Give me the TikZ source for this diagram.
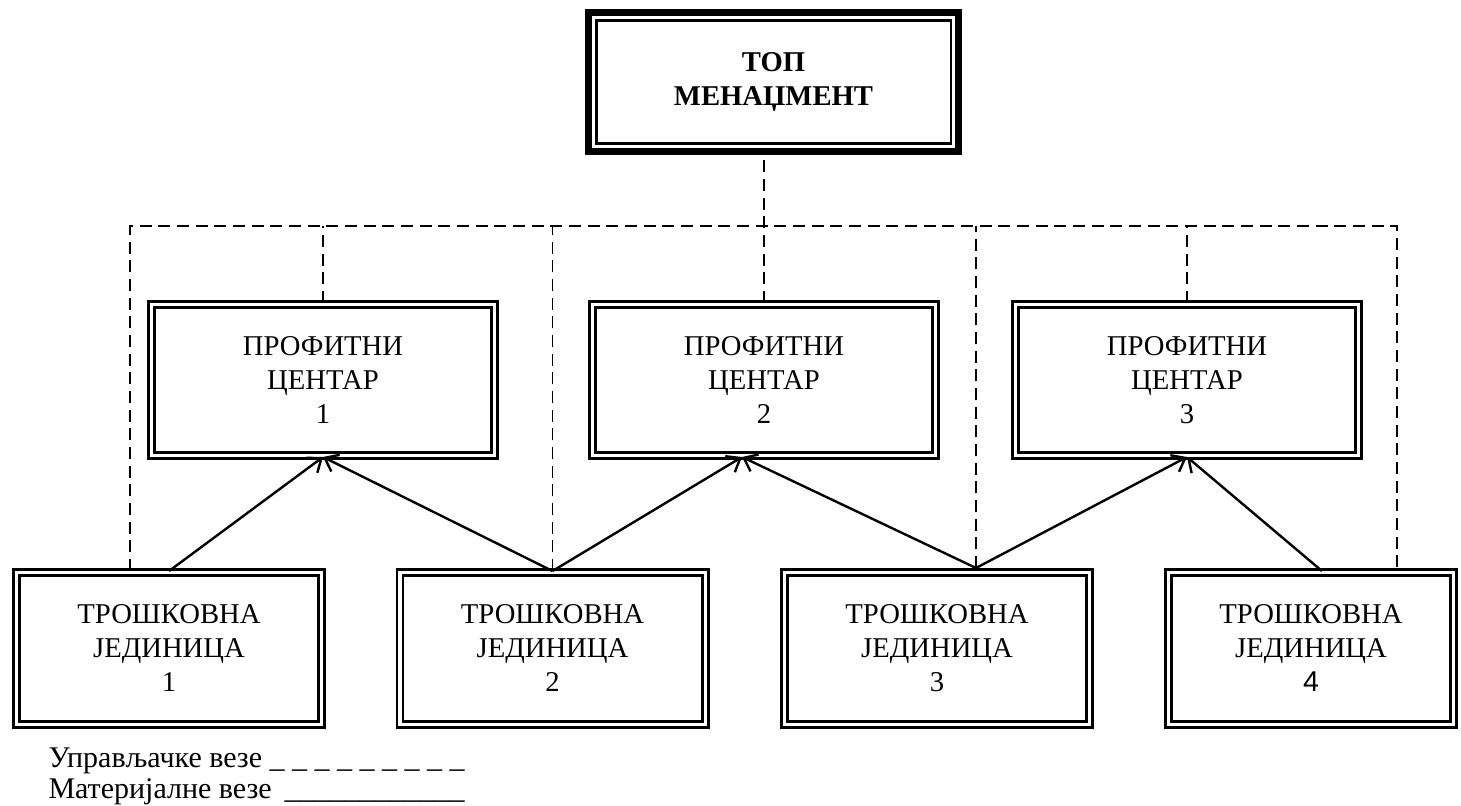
\documentclass[tikz,border=0pt]{standalone}
\usepackage{fontspec}
\setmainfont{Liberation Serif}
\newfontfamily\numsans{Liberation Sans}
\usetikzlibrary{arrows.meta}

\tikzset{every picture/.style={line width=0.75pt}}
\tikzset{
  boxfont/.style={font=\fontsize{21.5}{25.5}\selectfont},
  dblbox/.style={draw, double, line width=2pt, double distance=2.5pt, align=center, inner sep=0pt, boxfont},
  pcbox/.style={dblbox, minimum width=257.5pt, minimum height=113.5pt},
  tcbox/.style={dblbox, minimum width=229pt, minimum height=114.2pt},
  topbox/.style={draw, line width=5.25pt, minimum width=277.5pt, minimum height=104.25pt},
  topinner/.style={draw, line width=1.9pt, align=center, minimum width=265.9pt, minimum height=92.6pt, font=\fontsize{21.5}{25}\selectfont\bfseries},
  ctrl/.style={dash pattern=on 9pt off 5pt, line width=1.4pt},
  matl/.style={line width=1.8pt, -{Straight Barb[length=9pt,width=14pt,line width=1.8pt]}},
  legend/.style={anchor=base west, inner sep=0pt, font=\fontsize{22.5}{26}\selectfont}
}

\begin{document}
\begin{tikzpicture}[x=0.75pt,y=0.75pt,yscale=-1,xscale=1]
  \useasboundingbox (0,0) rectangle (1461,806);

  % top management
  \node[topbox] (tm) at (773.5,82) {};
  \node[topinner] (tmi) at (773.5,82) {ТОП\\МЕНАЏМЕНТ};

  % profit centres
  \node[pcbox] (pc1) at (323,380) {ПРОФИТНИ\\ЦЕНТАР\\1};
  \node[pcbox] (pc2) at (764,380) {ПРОФИТНИ\\ЦЕНТАР\\2};
  \node[pcbox] (pc3) at (1187,380) {ПРОФИТНИ\\ЦЕНТАР\\3};

  % cost units
  \node[tcbox] (tc1) at (169,648.5) {ТРОШКОВНА\\ЈЕДИНИЦА\\1};
  \node[tcbox] (tc2) at (552.5,648.5) {ТРОШКОВНА\\ЈЕДИНИЦА\\2};
  \node[tcbox] (tc3) at (937,648.5) {ТРОШКОВНА\\ЈЕДИНИЦА\\3};
  \node[tcbox, minimum width=214pt] (tc4) at (1311,648.5) {ТРОШКОВНА\\ЈЕДИНИЦА\\{\numsans 4}};

  % control links (dashed)
  \coordinate (busL) at (130,226);
  \coordinate (busR) at (1397,226);
  \coordinate (j3) at (976,568);
  \draw[ctrl] (tc1.north -| busL) -- (busL) -- (busR) -- (busR |- tc4.north);
  \draw[ctrl] (pc1.north) -- (pc1.north |- busL);
  \draw[ctrl] (tc2.north) -- (tc2.north |- busL);
  \draw[ctrl] (pc2.north) -- (pc2.north |- tm.south);
  \draw[ctrl] (j3) -- (j3 |- busL);
  \draw[ctrl] (pc3.north) -- (pc3.north |- busL);

  % material links
  \draw[matl] (tc1.north) -- (pc1.south);
  \draw[matl] (tc2.north) -- (pc1.south);
  \draw[matl] (tc2.north) -- ([xshift=-16.5pt]pc2.south);
  \draw[matl] (j3) -- ([xshift=-16.5pt]pc2.south);
  \draw[matl] (j3) -- (pc3.south);
  \draw[matl] ([xshift=8.25pt]tc4.north) -- (pc3.south);

  % legend
  \node[legend] (lg1) at (48,767) {Управљачке везе \_ \_ \_ \_ \_ \_ \_ \_ \_};
  \node[legend] (lg2) at (48,798) {Материјалне везе \hspace{4pt}\_\_\_\_\_\_\_\_\_\_\_\_};
\end{tikzpicture}
\end{document}
